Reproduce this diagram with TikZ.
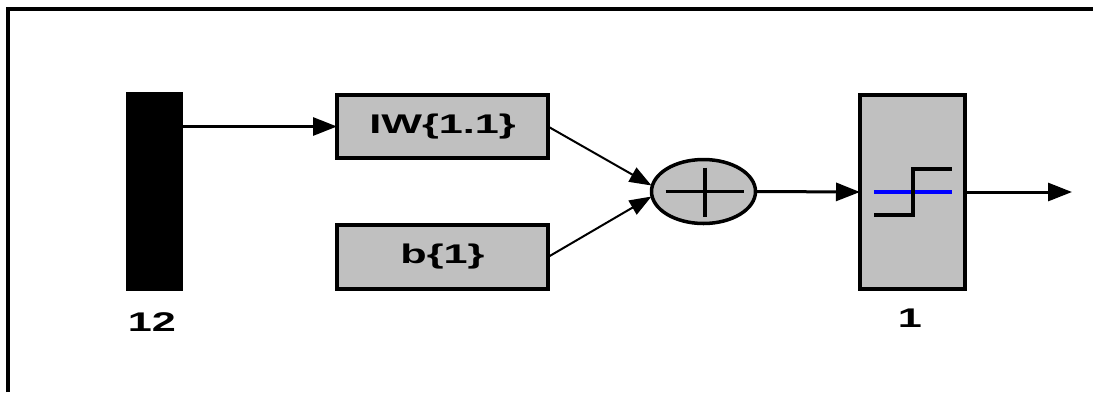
\documentclass[tikz,border=0pt]{standalone}
\usepackage{fontspec}
\setmainfont{Liberation Sans}
\usetikzlibrary{arrows.meta,shapes.geometric,calc}
\definecolor{boxgray}{RGB}{192,192,192}
\newcommand{\pixtxt}[1]{{\fontsize{27}{27}\selectfont\bfseries\scalebox{1.6}[1]{#1}}}
\begin{document}
\begin{tikzpicture}[x=1pt,y=-1pt,
  blk/.style={draw=black,fill=boxgray,line width=4pt,rectangle,inner sep=0pt,outer sep=0pt},
  wire/.style={line width=3pt,-{Triangle[length=24pt,width=18pt]}},
  thinwire/.style={line width=2pt,-{Triangle[length=22pt,width=16pt]}},
  lbl/.style={inner sep=0pt}]
\useasboundingbox (0,0) rectangle (1093,392);
\fill[white] (0,0) rectangle (1093,392);
% frame
\draw[line width=4.5pt] (8,392) -- (8,9) -- (1093,9);
% blocks
\node[fill=black,draw=none,minimum width=57pt,minimum height=199pt,inner sep=0pt] (bar) at (154.5,191.5) {};
\node[lbl] (barlbl) at (152,322) {\pixtxt{12}};
\node[blk,minimum width=211pt,minimum height=63pt] (W) at (442.5,126.5) {\pixtxt{IW\{1.1\}}};
\node[blk,minimum width=211pt,minimum height=64pt] (b) at (442.5,257) {\pixtxt{b\{1\}}};
\node[draw=black,fill=boxgray,line width=3.5pt,ellipse,minimum width=104pt,minimum height=64pt,inner sep=0pt,outer sep=0pt] (sum) at (703.5,191.5) {};
\draw[line width=3.5pt] ($(sum.center)+(-38,0)$) -- ($(sum.center)+(40,0)$);
\draw[line width=3.5pt] ($(sum.center)+(1.5,-24)$) -- ($(sum.center)+(1.5,25)$);
\node[blk,minimum width=105pt,minimum height=194pt] (act) at (912.5,192) {};
\node[lbl] (actlbl) at (910,318) {\pixtxt{1}};
% transfer symbol
\draw[blue,line width=3.5pt] ($(act.center)+(-38.5,0)$) -- ($(act.center)+(39.5,0)$);
\draw[line width=3.5pt] ($(act.center)+(-38.5,23)$) -- ($(act.center)+(0.5,23)$) -- ($(act.center)+(0.5,-23)$) -- ($(act.center)+(39.5,-23)$);
% connectors
\coordinate (out) at (1072,192);
\draw[wire] (bar.east |- W.west) -- (W.west);
\draw[thinwire] (W.east) -- ([yshift=6pt]sum.west);
\draw[thinwire] (b.east) -- ([yshift=-5pt]sum.west);
\draw[wire] (sum.east) -- (act.west);
\draw[wire] (act.east) -- (out);
\end{tikzpicture}
\end{document}
